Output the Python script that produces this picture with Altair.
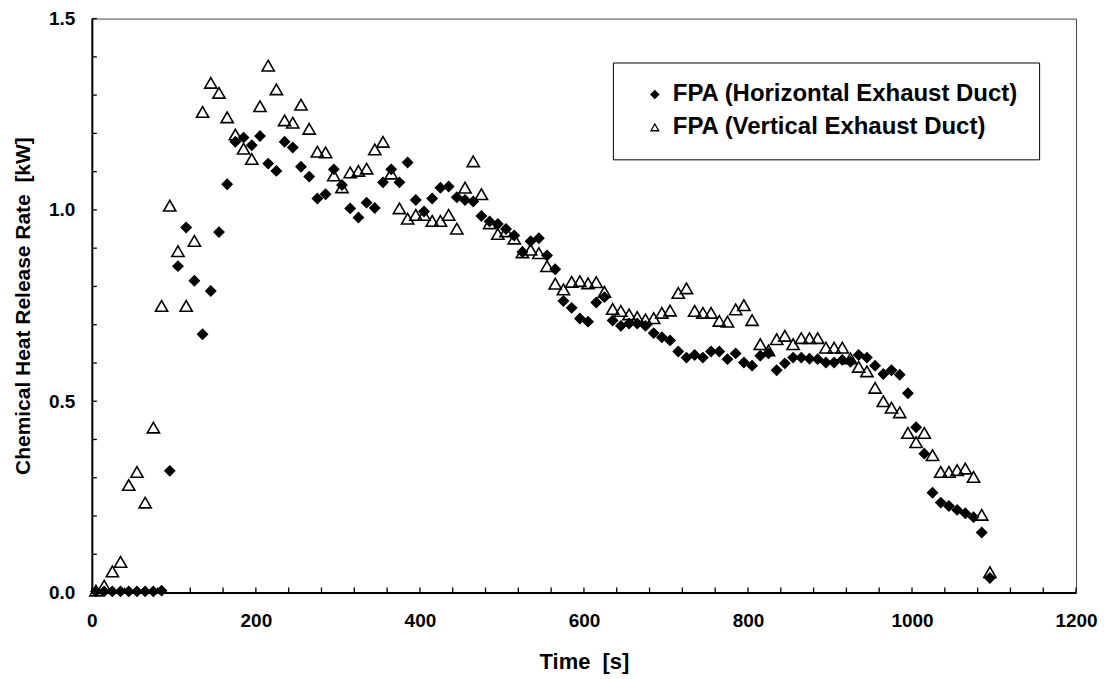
import altair as alt
import pandas as pd

LH = "FPA (Horizontal Exhaust Duct)"
LV = "FPA (Vertical Exhaust Duct)"

# sample times [s]
times = [5 + 10 * i for i in range(110)]

horizontal = [
    0.003, 0.003, 0.003, 0.003, 0.003, 0.003, 0.003, 0.003, 0.005,
    0.318, 0.853, 0.954, 0.815, 0.675, 0.788, 0.942, 1.067, 1.178, 1.189,
    1.169, 1.193, 1.121, 1.102, 1.178, 1.163, 1.113, 1.087, 1.030, 1.041,
    1.106, 1.065, 1.004, 0.980, 1.019, 1.005, 1.072, 1.106, 1.072, 1.124,
    1.026, 0.996, 1.030, 1.058, 1.061, 1.033, 1.026, 1.022, 0.984, 0.970,
    0.963, 0.950, 0.933, 0.890, 0.918, 0.926, 0.881, 0.845, 0.762, 0.744,
    0.716, 0.708, 0.758, 0.772, 0.711, 0.697, 0.703, 0.703, 0.697, 0.678,
    0.667, 0.659, 0.630, 0.614, 0.621, 0.614, 0.630, 0.630, 0.610, 0.625,
    0.601, 0.593, 0.619, 0.625, 0.581, 0.599, 0.614, 0.614, 0.611, 0.610,
    0.601, 0.601, 0.608, 0.603, 0.621, 0.614, 0.593, 0.571, 0.581, 0.569,
    0.521, 0.432, 0.363, 0.261, 0.235, 0.226, 0.216, 0.207, 0.197, 0.157,
    0.038,
]

vertical = [
    0.005, 0.018, 0.055, 0.080, 0.281, 0.315, 0.235, 0.431, 0.749,
    1.011, 0.892, 0.749, 0.919, 1.256, 1.332, 1.306, 1.242, 1.197, 1.160,
    1.133, 1.271, 1.377, 1.315, 1.234, 1.228, 1.275, 1.212, 1.152, 1.150,
    1.090, 1.059, 1.098, 1.102, 1.108, 1.158, 1.178, 1.095, 1.004, 0.977,
    0.987, 0.987, 0.971, 0.971, 0.987, 0.951, 1.058, 1.127, 1.041, 0.965,
    0.937, 0.944, 0.925, 0.889, 0.896, 0.887, 0.853, 0.807, 0.792, 0.812,
    0.814, 0.808, 0.811, 0.786, 0.741, 0.736, 0.727, 0.720, 0.714, 0.717,
    0.731, 0.737, 0.783, 0.795, 0.736, 0.731, 0.731, 0.710, 0.708, 0.740,
    0.751, 0.712, 0.649, 0.633, 0.662, 0.671, 0.649, 0.665, 0.665, 0.665,
    0.640, 0.640, 0.640, 0.612, 0.590, 0.578, 0.535, 0.500, 0.483, 0.471,
    0.417, 0.393, 0.417, 0.359, 0.315, 0.315, 0.320, 0.324, 0.302, 0.203,
    0.053,
]

x_label_values = [0, 200, 400, 600, 800, 1000, 1200]
y_label_values = [0.0, 0.5, 1.0, 1.5]
x_tick_values = list(range(0, 1201, 40))
y_tick_values = [round(0.1 * i, 1) for i in range(16)]

FONT = "Liberation Sans"
W, H = 986, 575

df_v = pd.DataFrame({"t": times, "v": vertical, "series": [LV] * len(vertical)})
df_h = pd.DataFrame({"t": times, "v": horizontal, "series": [LH] * len(horizontal)})

xscale = alt.Scale(domain=[0, 1200], nice=False, zero=False)
yscale = alt.Scale(domain=[0, 1.5], nice=False)

x_axis = alt.Axis(
    values=x_label_values, format="d", title="Time\u00a0\u00a0[s]",
    ticks=False, tickSize=0, grid=False, domainColor="black", domainWidth=2,
    labelFont=FONT, labelFontSize=19, labelFontWeight="bold", labelColor="black",
    labelPadding=19, labelFlush=False,
    titleFont=FONT, titleFontSize=22, titleFontWeight="bold", titleColor="black",
    titleX=W / 2, titleY=69, titleBaseline="middle", titleAlign="center",
)
y_axis = alt.Axis(
    values=y_label_values, format=".1f",
    title="Chemical Heat Release Rate\u00a0\u00a0[kW]",
    ticks=False, tickSize=0, grid=False, domainColor="black", domainWidth=2,
    labelFont=FONT, labelFontSize=19, labelFontWeight="bold", labelColor="black",
    labelPadding=17,
    titleFont=FONT, titleFontSize=21, titleFontWeight="bold", titleColor="black",
    titleX=-68, titleY=H / 2, titleAngle=-90, titleBaseline="middle", titleAlign="center",
)

legend = alt.Legend(
    title=None, orient="none", legendX=522, legendY=44,
    labelFont=FONT, labelFontSize=24, labelFontWeight="bold", labelColor="black",
    symbolSize=60, symbolStrokeWidth=1.3,
    padding=20, rowPadding=9, labelOffset=6, symbolOffset=10, labelLimit=700,
    strokeColor="black", fillColor="white",
)

sdomain = [LH, LV]
shape_enc = alt.Shape("series:N", scale=alt.Scale(domain=sdomain, range=["diamond", "triangle-up"]), legend=legend)
fill_enc = alt.Fill("series:N", scale=alt.Scale(domain=sdomain, range=["black", "transparent"]), legend=legend)
stroke_enc = alt.Stroke("series:N", scale=alt.Scale(domain=sdomain, range=["black", "black"]), legend=legend)

tri = alt.Chart(df_v).mark_point(filled=True, size=150, strokeWidth=1.6, opacity=1).encode(
    x=alt.X("t:Q", scale=xscale, axis=x_axis),
    y=alt.Y("v:Q", scale=yscale, axis=y_axis),
    shape=shape_enc, fill=fill_enc, stroke=stroke_enc,
)

dia = alt.Chart(df_h).mark_point(filled=True, size=105, strokeWidth=1.2, opacity=1).encode(
    x=alt.X("t:Q", scale=xscale, axis=x_axis),
    y=alt.Y("v:Q", scale=yscale, axis=y_axis),
    shape=shape_enc, fill=fill_enc, stroke=stroke_enc,
)

xticks = alt.Chart(pd.DataFrame({"t": x_tick_values})).mark_rule(color="black", strokeWidth=1.3).encode(
    x=alt.X("t:Q", scale=xscale, axis=x_axis),
    y=alt.value(H),
    y2=alt.value(H - 5),
)

yticks = alt.Chart(pd.DataFrame({"v": y_tick_values})).mark_rule(color="black", strokeWidth=1.3).encode(
    y=alt.Y("v:Q", scale=yscale, axis=y_axis),
    x=alt.value(0),
    x2=alt.value(5),
)

chart = alt.layer(tri, dia, xticks, yticks).properties(
    width=W, height=H,
    autosize=alt.AutoSizeParams(type="none"),
    padding={"left": 84, "top": 10, "right": 25, "bottom": 82},
    background="white",
).configure_view(stroke="#444", strokeWidth=1)

chart.save("out.html", embed_options={"renderer": "svg", "actions": False})
